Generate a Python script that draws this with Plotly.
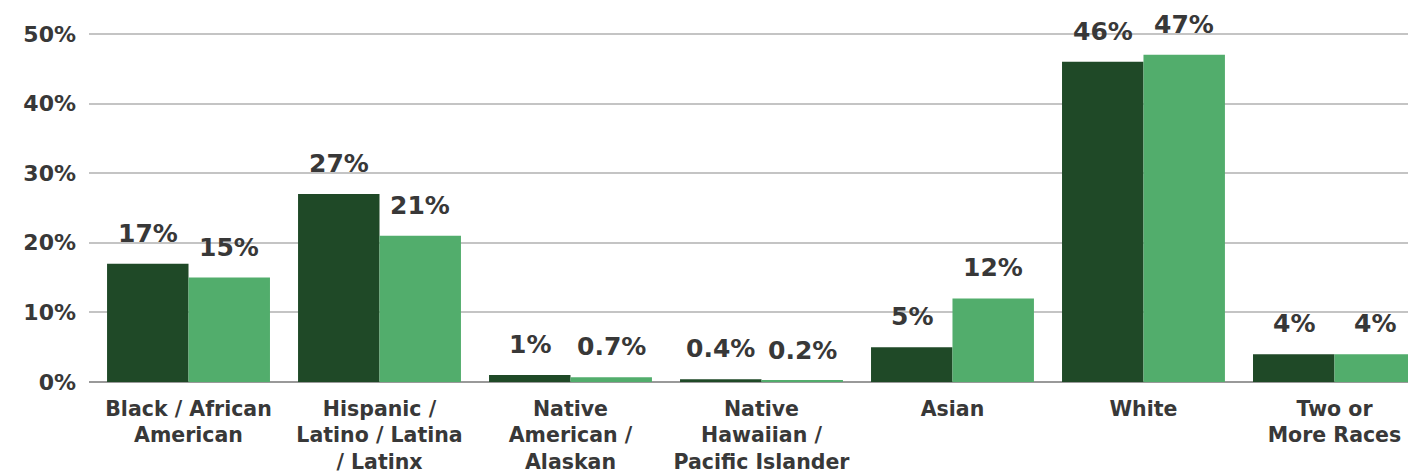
import plotly.graph_objects as go

categories = [
    "Black / African<br>American",
    "Hispanic /<br>Latino / Latina<br>/ Latinx",
    "Native<br>American /<br>Alaskan",
    "Native<br>Hawaiian /<br>Pacific Islander",
    "Asian",
    "White",
    "Two or<br>More Races",
]
series_a = [17, 27, 1, 0.4, 5, 46, 4]
series_b = [15, 21, 0.7, 0.2, 12, 47, 4]
labels_a = ["17%", "27%", "1%", "0.4%", "5%", "46%", "4%"]
labels_b = ["15%", "21%", "0.7%", "0.2%", "12%", "47%", "4%"]
y_ticks = [0, 10, 20, 30, 40, 50]
y_tick_labels = ["0%", "10%", "20%", "30%", "40%", "50%"]

DARK = "#1f4927"
LIGHT = "#52ad6c"
TEXT = "#383838"
FONT = "DejaVu Sans"

fig = go.Figure()
fig.add_trace(go.Bar(x=categories, y=series_a, name="Series A", marker_color=DARK,
                     marker_line_width=0))
fig.add_trace(go.Bar(x=categories, y=series_b, name="Series B", marker_color=LIGHT,
                     marker_line_width=0))

bar_px = 81.5
for vals, labs, shift in ((series_a, labels_a, -bar_px / 2), (series_b, labels_b, bar_px / 2)):
    for c, v, t in zip(categories, vals, labs):
        fig.add_annotation(x=c, y=v, text=t, showarrow=False, xshift=shift, yshift=14,
                           yanchor="bottom", xanchor="center",
                           font=dict(family=FONT, size=25, color=TEXT, weight="bold"))

fig.update_layout(
    width=1408, height=473,
    margin=dict(l=89, r=0, t=20, b=91),
    plot_bgcolor="white", paper_bgcolor="white",
    barmode="group", bargap=0.147, bargroupgap=0,
    showlegend=False,
    font=dict(family=FONT, color=TEXT, weight="bold"),
)
fig.update_xaxes(range=[-0.521, 6.385], showgrid=False, showline=False, ticks="",
                 automargin=False,
                 tickfont=dict(family=FONT, size=20.5, color=TEXT, weight="bold"),
                 ticklabelstandoff=12)
fig.update_yaxes(range=[0, 52], tickvals=y_ticks, ticktext=y_tick_labels,
                 automargin=False,
                 showgrid=True, gridcolor="#c4c4c4", gridwidth=2,
                 zeroline=True, zerolinecolor="#999999", zerolinewidth=2,
                 showline=False, ticks="",
                 tickfont=dict(family=FONT, size=22, color=TEXT, weight="bold"),
                 ticklabelstandoff=12)

fig.write_html(
    "out.html",
    config={"displayModeBar": False},
    post_script="document.body.style.margin='0';document.body.style.overflow='hidden';",
)
